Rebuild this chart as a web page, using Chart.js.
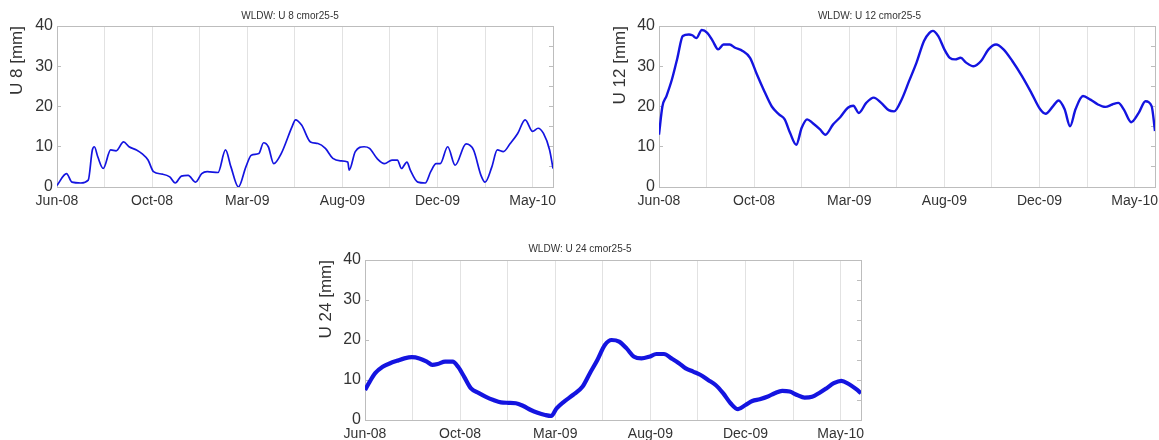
<!DOCTYPE html>
<html>
<head>
<meta charset="utf-8">
<script src="https://cdn.jsdelivr.net/npm/chart.js@4.4.0/dist/chart.umd.min.js"></script>
<style>
  body { margin: 0; background: #fff; width: 1159px; height: 440px; position: relative; overflow: hidden; }
  canvas { position: absolute; }
</style>
</head>
<body>
<canvas id="u8Chart" width="580" height="210" style="left:0;top:0"></canvas>
<canvas id="u12Chart" width="579" height="210" style="left:580px;top:0"></canvas>
<canvas id="u24Chart" width="580" height="210" style="left:290px;top:230px"></canvas>
<script>
// x = days since the first tick (Jun-08), one tick every 70 days, a label every 140
const tickLabels = ['Jun-08', 'Oct-08', 'Mar-09', 'Aug-09', 'Dec-09', 'May-10'];

const u8Days = [0, 14, 22, 35, 46, 52, 55, 60, 68, 79, 87, 98, 106, 117, 125, 134, 142, 155, 166, 174,
  183, 193, 204, 213, 221, 237, 248, 256, 267, 278, 286, 297, 304, 311, 319, 330, 346, 351, 360, 373,
  384, 395, 406, 417, 428, 430, 439, 452, 460, 471, 482, 493, 501, 507, 515, 520, 531, 542, 550, 558,
  564, 575, 586, 602, 613, 624, 630, 640, 648, 657, 667, 678, 689, 700, 708, 716, 725, 730];
const u8Values = [0.4, 3.3, 1.2, 1.0, 1.7, 9.2, 10, 7.5, 4.6, 9.2, 9.0, 11.2, 10, 9.2, 8.3, 6.7, 3.8, 3.2, 2.5, 1.0,
  2.7, 2.9, 1.2, 3.3, 3.8, 3.6, 9.2, 5.0, 0.0, 5.0, 7.9, 8.3, 11, 10, 5.8, 8.3, 15, 16.7, 15.4, 11.2,
  10.8, 9.6, 7.1, 6.5, 6.2, 4.2, 8.8, 10, 9.6, 7.1, 5.8, 6.7, 6.7, 4.6, 6.2, 4.2, 1.2, 1.0, 3.8, 5.8,
  5.8, 10, 5.4, 10.7, 9.2, 2.9, 1.2, 5.0, 9.2, 8.8, 10.8, 13.3, 16.7, 13.8, 14.6, 13.3, 9.2, 4.6];

const u12Days = [0, 5, 11, 19, 27, 35, 44, 49, 55, 63, 71, 79, 87, 95, 104, 112, 123, 134, 144, 155,
  166, 177, 185, 193, 202, 210, 218, 226, 237, 245, 256, 267, 278, 286, 294, 305, 316, 327, 338, 346,
  357, 368, 379, 390, 398, 403, 411, 420, 428, 436, 444, 452, 463, 474, 485, 496, 507, 520, 534, 548,
  561, 569, 580, 588, 597, 605, 613, 624, 635, 646, 657, 667, 676, 684, 695, 706, 716, 725, 730];
const u12Values = [13, 20, 22.6, 26.7, 32, 37.5, 37.9, 37.7, 37, 39, 38.3, 36.3, 34.2, 35.4, 35.4, 34.6, 33.8, 32.1, 28, 23.8,
  20, 18, 16.8, 13.4, 10.5, 14.7, 16.8, 15.9, 14.3, 13, 15.5, 17.4, 19.7, 20.2, 18.4, 20.9, 22.2, 20.9, 19.1, 18.8,
  21.7, 26.3, 30.9, 36.3, 38.3, 38.8, 37.5, 34.2, 32.1, 31.7, 32.1, 30.9, 30, 31.3, 34.2, 35.4, 34.2, 31.3, 27.6, 23.4,
  19.3, 18.2, 20.1, 21.5, 19.3, 15.1, 19.3, 22.6, 21.7, 20.5, 19.9, 20.5, 20.9, 19.3, 16.1, 18.4, 21.3, 20.1, 13.9];

const u24Days = [0, 7, 15, 26, 37, 47, 58, 69, 80, 91, 99, 107, 118, 129, 137, 146, 156, 167, 178, 189,
  200, 211, 222, 233, 244, 254, 265, 274, 282, 293, 306, 320, 331, 342, 353, 363, 374, 385, 396, 407,
  418, 429, 440, 451, 462, 472, 483, 494, 505, 516, 527, 538, 549, 560, 570, 581, 592, 603, 614, 625,
  636, 647, 658, 668, 679, 690, 701, 712, 723, 730];
const u24Values = [7.5, 9.6, 11.7, 13.3, 14.2, 14.8, 15.4, 15.7, 15.4, 14.6, 13.8, 14, 14.6, 14.6, 13.3, 10.8, 7.9, 6.8, 5.8, 5,
  4.4, 4.3, 4.2, 3.5, 2.5, 1.8, 1.25, 1.0, 2.9, 4.6, 6.25, 8.3, 11.7, 15, 18.75, 20, 19.6, 17.9, 15.8, 15.4,
  15.8, 16.5, 16.5, 15.4, 14.2, 12.9, 12.1, 11.25, 10, 8.75, 6.7, 4.2, 2.7, 3.75, 4.75, 5.2, 5.8, 6.7, 7.3, 7.1,
  6.25, 5.6, 5.8, 6.7, 7.9, 9.2, 9.8, 9, 7.7, 6.7];

Chart.defaults.font.family = '"Liberation Sans", Arial, Helvetica, sans-serif';
Chart.defaults.color = '#333';

const frame = '#bdbdbd';

function drawPanel(id, title, yTitle, days, values, lay) {
  const ctx = document.getElementById(id).getContext('2d');
  return new Chart(ctx, {
    type: 'line',
    data: {
      datasets: [{
        data: days.map((d, i) => ({ x: d, y: values[i] })),
        borderColor: '#1414e0',
        borderWidth: lay.lineWidth,
        pointRadius: 0,
        cubicInterpolationMode: 'monotone',
      }],
    },
    options: {
      responsive: false,
      animation: false,
      layout: { padding: 0 },
      plugins: {
        legend: { display: false },
        tooltip: { enabled: false },
        title: {
          display: true,
          text: title,
          color: '#333',
          font: { size: 10, weight: 'normal' },
          padding: { top: lay.titleTop, bottom: lay.titleBottom },
        },
      },
      scales: {
        x: {
          type: 'linear',
          position: 'bottom',
          min: 0,
          max: 730,
          ticks: {
            stepSize: 70,
            includeBounds: false,
            autoSkip: false,
            maxRotation: 0,
            padding: 6,
            color: '#333',
            font: { size: 14 },
            callback: (v) => (v % 140 === 0 ? tickLabels[v / 140] : ''),
          },
          grid: { color: '#e2e2e2', drawTicks: false },
          border: { color: frame },
          afterFit: (s) => { s.height = lay.bottom; s.paddingLeft = 0; s.paddingRight = 0; },
        },
        xTop: {
          type: 'linear',
          position: 'top',
          min: 0,
          max: 730,
          ticks: { display: false },
          grid: { display: false },
          border: { color: frame },
          afterFit: (s) => { s.height = 0; },
        },
        y: {
          position: 'left',
          min: 0,
          max: 40,
          ticks: {
            stepSize: 5,
            padding: 8,
            color: '#333',
            font: { size: 16 },
            callback: (v) => (v % 10 === 0 ? v : ''),
          },
          grid: { drawOnChartArea: false, tickLength: -4, color: frame },
          border: { color: frame },
          title: {
            display: true,
            text: yTitle,
            align: 'end',
            color: '#333',
            font: { size: 17 },
            padding: { top: lay.yTitleLeft, bottom: 0 },
          },
          afterFit: (s) => { s.width = lay.left; },
        },
        yRight: {
          position: 'right',
          min: 0,
          max: 40,
          ticks: { stepSize: 5, display: false },
          grid: { drawOnChartArea: false, tickLength: -4, color: frame },
          border: { color: frame },
          afterFit: (s) => { s.width = lay.right; },
        },
      },
    },
  });
}

drawPanel('u8Chart', 'WLDW: U 8 cmor25-5', 'U 8 [mm]', u8Days, u8Values,
  { left: 57, right: 27, bottom: 23, titleTop: 10.5, titleBottom: 3.5, yTitleLeft: 7, lineWidth: 1.7 });
drawPanel('u12Chart', 'WLDW: U 12 cmor25-5', 'U 12 [mm]', u12Days, u12Values,
  { left: 79, right: 4, bottom: 23, titleTop: 10.5, titleBottom: 3.5, yTitleLeft: 30, lineWidth: 2.4 });
drawPanel('u24Chart', 'WLDW: U 24 cmor25-5', 'U 24 [mm]', u24Days, u24Values,
  { left: 75, right: 9, bottom: 20, titleTop: 13, titleBottom: 5, yTitleLeft: 26, lineWidth: 4.2 });
</script>
</body>
</html>
